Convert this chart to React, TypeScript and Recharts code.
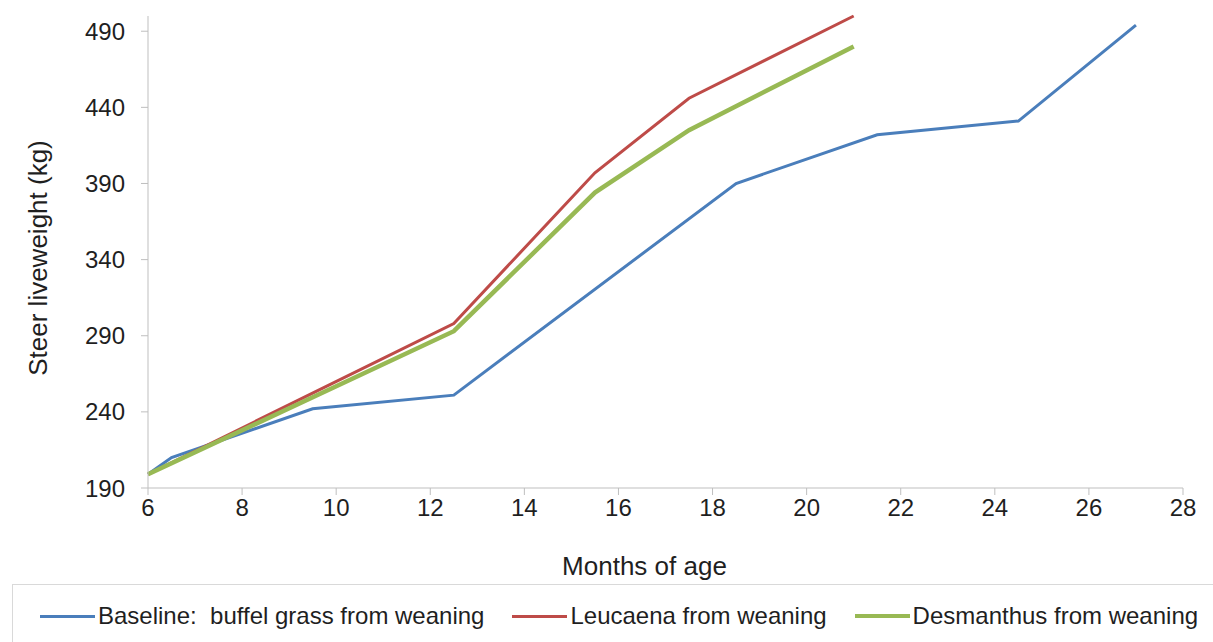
import React from "react";
import { LineChart, Line, XAxis, YAxis } from "recharts";

const baselineMonths = [6, 6.5, 9.5, 12.5, 18.5, 21.5, 24.5, 27];
const baselineKg = [199, 210, 242, 251, 390, 422, 431, 494];

const leucaenaMonths = [6, 12.5, 15.5, 17.5, 21];
const leucaenaKg = [199, 298, 397, 446, 500];

const desmanthusMonths = [6, 12.5, 15.5, 17.5, 21];
const desmanthusKg = [199, 293, 384, 425, 480];

const xTicks = [6, 8, 10, 12, 14, 16, 18, 20, 22, 24, 26, 28];
const yTicks = [190, 240, 290, 340, 390, 440, 490];

const toPoints = (months: number[], kg: number[]) => months.map((m, i) => ({ m, kg: kg[i] }));

const series = [
  { name: "Baseline:  buffel grass from weaning", color: "#4A7EBB", width: 3, data: toPoints(baselineMonths, baselineKg) },
  { name: "Leucaena from weaning", color: "#BE4B48", width: 3, data: toPoints(leucaenaMonths, leucaenaKg) },
  { name: "Desmanthus from weaning", color: "#98B954", width: 4.5, data: toPoints(desmanthusMonths, desmanthusKg) },
];

const FONT = "'Liberation Sans', Arial, sans-serif";
const AXIS = "#BFBFBF";
const TEXT = "#1F1F1F";

const XTitle = ({ viewBox }: any) => {
  const { x, y, width } = viewBox;
  return (
    <text x={x + width / 2 - 21} y={y + 87} textAnchor="middle" fontSize={26} fill={TEXT} fontFamily={FONT}>
      Months of age
    </text>
  );
};

const YTitle = ({ viewBox }: any) => {
  const { y, height } = viewBox;
  const cx = 47;
  const cy = y + height / 2 + 6;
  return (
    <text x={cx} y={cy} transform={`rotate(-90 ${cx} ${cy})`} textAnchor="middle" fontSize={26} fill={TEXT} fontFamily={FONT}>
      Steer liveweight (kg)
    </text>
  );
};

export default function App() {
  return (
    <div style={{ position: "relative", width: 1213, height: 642, background: "#fff", fontFamily: FONT, overflow: "hidden" }}>
      <style>{`body{margin:0}`}</style>
      <LineChart width={1213} height={642} margin={{ top: 16, right: 30, left: 0, bottom: 59 }}>
        <XAxis
          type="number"
          dataKey="m"
          domain={[6, 28]}
          ticks={xTicks}
          allowDuplicatedCategory={false}
          height={95}
          stroke={AXIS}
          tickSize={7}
          tickMargin={4}
          tick={{ fontSize: 24, fill: TEXT, fontFamily: FONT }}
          label={<XTitle />}
        />
        <YAxis
          type="number"
          dataKey="kg"
          domain={[190, 500]}
          ticks={yTicks}
          width={148}
          stroke={AXIS}
          tickSize={7}
          tickMargin={16}
          tick={{ fontSize: 24, fill: TEXT, fontFamily: FONT }}
          label={<YTitle />}
        />
        {series.map((s) => (
          <Line
            key={s.name}
            data={s.data}
            dataKey="kg"
            name={s.name}
            type="linear"
            stroke={s.color}
            strokeWidth={s.width}
            dot={false}
            activeDot={false}
            isAnimationActive={false}
          />
        ))}
      </LineChart>
      <div
        style={{
          position: "absolute",
          left: 12,
          top: 584,
          width: 1220,
          height: 80,
          border: "1px solid #D9D9D9",
          boxSizing: "border-box",
        }}
      />
      <div style={{ position: "absolute", left: 40, top: 602, display: "flex", alignItems: "center", fontSize: 24, color: TEXT, whiteSpace: "nowrap" }}>
        {series.map((s, i) => (
          <div key={s.name} style={{ display: "flex", alignItems: "center", marginLeft: i === 0 ? 0 : 28 }}>
            <span style={{ display: "inline-block", width: 55, height: s.width, background: s.color, marginRight: 3 }} />
            <span>{s.name.replace(/ /g, "\u00a0")}</span>
          </div>
        ))}
      </div>
    </div>
  );
}
